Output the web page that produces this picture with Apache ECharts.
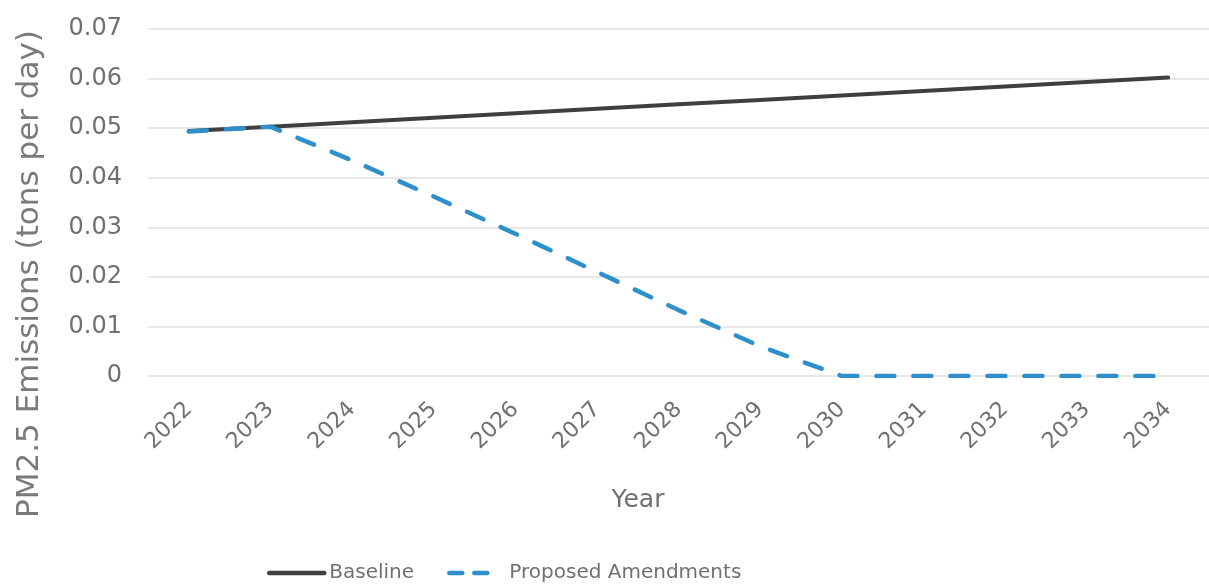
<!DOCTYPE html>
<html>
<head>
<meta charset="utf-8">
<script src="https://cdn.jsdelivr.net/npm/echarts@6/dist/echarts.min.js"></script>
<style>
html,body{margin:0;padding:0;background:#fff;}
#chart{width:1209px;height:587px;}
</style>
</head>
<body>
<div id="chart"></div>
<script>
const years = ['2022','2023','2024','2025','2026','2027','2028','2029','2030','2031','2032','2033','2034'];
const baseline = [0.0494, 0.0503, 0.0512, 0.0521, 0.0530, 0.0539, 0.0548, 0.0557, 0.0566, 0.0575, 0.0584, 0.0593, 0.0602];
const proposed = [0.0493, 0.0503, 0.0435, 0.0362, 0.0287, 0.0210, 0.0133, 0.0060, 0, 0, 0, 0, 0];
const yTitle = 'PM2.5 Emissions (tons per day)';
const xTitle = 'Year';
const seriesNames = ['Baseline', 'Proposed Amendments'];

const FONT = 'DejaVu Sans';
const TXT = '#707070';
const BLUE = '#2f8fca';
const DARK = '#3f3f3f';
const chart = echarts.init(document.getElementById('chart'));
chart.setOption({
  animation: false,
  textStyle: { fontFamily: FONT },
  grid: { left: 148, right: -4, top: 29, bottom: 211 },
  legend: {
    top: 558, left: 262,
    itemWidth: 55, itemHeight: 14, itemGap: 33,
    itemStyle: { opacity: 0 },
    lineStyle: { width: 4.5 },
    textStyle: { fontFamily: FONT, fontSize: 20, color: TXT },
    data: [
      { name: seriesNames[0], lineStyle: { width: 4.5 } },
      { name: seriesNames[1], lineStyle: { width: 4.5, type: [13, 12, 13, 100] } }
    ]
  },
  xAxis: {
    type: 'category', data: years, boundaryGap: true,
    axisLine: { show: false }, axisTick: { show: false },
    axisLabel: { rotate: 45, margin: 30, fontSize: 22, color: TXT, fontFamily: FONT }
  },
  yAxis: {
    type: 'value', min: 0, max: 0.07, interval: 0.01,
    axisLine: { show: false }, axisTick: { show: false },
    axisLabel: { margin: 26, fontSize: 24, color: TXT, fontFamily: FONT,
      formatter: v => v === 0 ? '0' : v.toFixed(2) },
    splitLine: { lineStyle: { color: '#e8e8e8', width: 2 } }
  },
  graphic: [
    { type: 'text', x: 638, y: 500,
      style: { text: xTitle, fontSize: 25, fill: TXT, fontFamily: FONT, align: 'center', verticalAlign: 'middle' } },
    { type: 'text', x: 30, y: 274, rotation: Math.PI / 2,
      style: { text: yTitle, fontSize: 31, fill: '#7a7a7a', fontFamily: FONT, align: 'center', verticalAlign: 'middle' } }
  ],
  series: [
    { name: seriesNames[0], type: 'line', data: baseline, showSymbol: false, symbol: 'none',
      lineStyle: { color: DARK, width: 4, cap: 'round' }, itemStyle: { color: DARK }, z: 2 },
    { name: seriesNames[1], type: 'line', data: proposed, showSymbol: false, symbol: 'none',
      lineStyle: { color: BLUE, width: 4.5, type: [18, 19], cap: 'round' }, itemStyle: { color: BLUE }, z: 3 }
  ]
});
</script>
</body>
</html>
